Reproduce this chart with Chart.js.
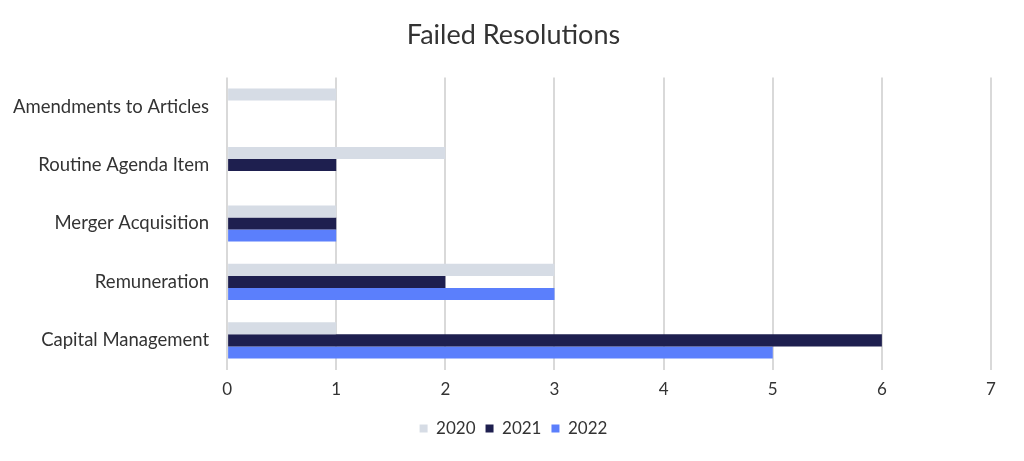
<!DOCTYPE html>
<html>
<head>
<meta charset="utf-8">
<script src="https://cdn.jsdelivr.net/npm/chart.js@4/dist/chart.umd.min.js"></script>
<style>
  html, body { margin: 0; padding: 0; background: #fff; }
  #wrap { width: 1024px; height: 461px; }
</style>
</head>
<body>
<div id="wrap"><canvas id="chart"></canvas></div>
<script>
const categories = ['Amendments to Articles', 'Routine Agenda Item', 'Merger Acquisition', 'Remuneration', 'Capital Management'];
const values2020 = [1, 2, 1, 3, 1];
const values2021 = [0, 1, 1, 2, 6];
const values2022 = [0, 0, 1, 3, 5];
const xTicks = [0, 1, 2, 3, 4, 5, 6, 7];

const font = 'Lato, "Open Sans", sans-serif';
const ctx = document.getElementById('chart').getContext('2d');

new Chart(ctx, {
  type: 'bar',
  data: {
    labels: categories,
    datasets: [
      { label: '2020', data: values2020, backgroundColor: '#d6dce5' },
      { label: '2021', data: values2021, backgroundColor: '#1e1f4f' },
      { label: '2022', data: values2022, backgroundColor: '#5b7ffc' }
    ]
  },
  options: {
    indexAxis: 'y',
    responsive: true,
    maintainAspectRatio: false,
    animation: false,
    barPercentage: 1,
    categoryPercentage: 0.62,
    layout: { padding: { left: 3, right: 0, top: 2, bottom: 14 } },
    plugins: {
      title: {
        display: true,
        text: 'Failed Resolutions',
        color: '#333333',
        font: { family: font, size: 27, weight: 'normal' },
        padding: { top: 17, bottom: 26 }
      },
      legend: {
        position: 'bottom',
        labels: {
          color: '#333333',
          boxWidth: 8,
          boxHeight: 8,
          padding: 10,
          font: { family: font, size: 17 }
        }
      },
      tooltip: { enabled: false }
    },
    scales: {
      x: {
        min: 0,
        max: 7,
        afterBuildTicks: axis => { axis.ticks = xTicks.map(v => ({ value: v })); },
        grid: { color: '#d9d9d9', lineWidth: 2, drawTicks: false },
        border: { display: false },
        ticks: {
          color: '#333333',
          padding: 10,
          font: { family: font, size: 17 }
        }
      },
      y: {
        grid: { display: false },
        border: { display: false },
        ticks: {
          color: '#333333',
          padding: 10,
          font: { family: font, size: 18.5 }
        }
      },
      // empty right-hand axis, only there to hold space on the right
      yRight: {
        type: 'category',
        labels: categories,
        position: 'right',
        grid: { display: false },
        border: { display: false },
        ticks: { display: false },
        afterFit: axis => { axis.width = 33; }
      }
    }
  }
});
</script>
</body>
</html>
